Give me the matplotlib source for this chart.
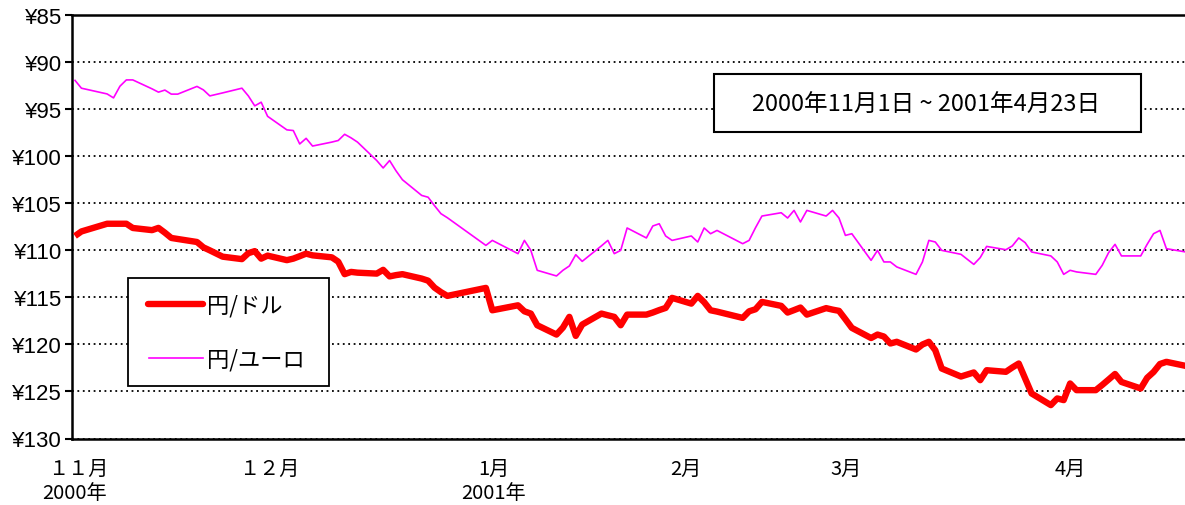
import numpy as np
import matplotlib
matplotlib.use('Agg')
import matplotlib.pyplot as plt
import matplotlib.dates as mdates
from matplotlib.patches import Rectangle
from matplotlib.lines import Line2D

plt.rcParams['font.family'] = ['Liberation Sans', 'Noto Sans CJK JP']

# ---------------- data (Tokyo trading days) ----------------
dates = [
    '2000-11-01', '2000-11-02', '2000-11-06', '2000-11-07', '2000-11-08', '2000-11-09', '2000-11-10',
    '2000-11-13', '2000-11-14', '2000-11-15', '2000-11-16', '2000-11-17', '2000-11-20', '2000-11-21',
    '2000-11-22', '2000-11-24', '2000-11-27', '2000-11-28', '2000-11-29', '2000-11-30',
    '2000-12-01', '2000-12-04', '2000-12-05', '2000-12-06', '2000-12-07', '2000-12-08', '2000-12-11',
    '2000-12-12', '2000-12-13', '2000-12-14', '2000-12-15', '2000-12-18', '2000-12-19', '2000-12-20',
    '2000-12-21', '2000-12-22', '2000-12-25', '2000-12-26', '2000-12-27', '2000-12-28', '2000-12-29',
    '2001-01-04', '2001-01-05', '2001-01-09', '2001-01-10', '2001-01-11', '2001-01-12', '2001-01-15',
    '2001-01-16', '2001-01-17', '2001-01-18', '2001-01-19', '2001-01-22', '2001-01-23', '2001-01-24',
    '2001-01-25', '2001-01-26', '2001-01-29', '2001-01-30', '2001-01-31',
    '2001-02-01', '2001-02-02', '2001-02-05', '2001-02-06', '2001-02-07', '2001-02-08', '2001-02-09',
    '2001-02-13', '2001-02-14', '2001-02-15', '2001-02-16', '2001-02-19', '2001-02-20', '2001-02-21',
    '2001-02-22', '2001-02-23', '2001-02-26', '2001-02-27', '2001-02-28',
    '2001-03-01', '2001-03-02', '2001-03-05', '2001-03-06', '2001-03-07', '2001-03-08', '2001-03-09',
    '2001-03-12', '2001-03-13', '2001-03-14', '2001-03-15', '2001-03-16', '2001-03-19', '2001-03-21',
    '2001-03-22', '2001-03-23', '2001-03-26', '2001-03-27', '2001-03-28', '2001-03-29', '2001-03-30',
    '2001-04-02', '2001-04-03', '2001-04-04', '2001-04-05', '2001-04-06', '2001-04-09', '2001-04-10',
    '2001-04-11', '2001-04-12', '2001-04-13', '2001-04-16', '2001-04-17', '2001-04-18', '2001-04-19',
    '2001-04-20', '2001-04-23',
]

usd_jpy = [
    108.47, 107.99, 107.17, 107.17, 107.17, 107.17, 107.62, 107.85, 107.61, 108.12, 108.68, 108.79,
    109.11, 109.68, 110.00, 110.67, 110.93, 110.30, 110.08, 110.88,
    110.56, 111.04, 110.88, 110.62, 110.35, 110.53, 110.74, 111.20, 112.53, 112.29, 112.37, 112.47,
    112.07, 112.77, 112.63, 112.53, 113.00, 113.22, 113.96, 114.44, 114.84,
    113.99, 116.37, 115.84, 116.48, 116.72, 117.96, 118.95, 118.21, 117.07, 119.09, 117.89, 116.72,
    116.90, 117.07, 117.96, 116.83, 116.83, 116.61, 116.35,
    116.12, 115.05, 115.66, 114.84, 115.51, 116.37, 116.51, 117.18, 116.48, 116.26, 115.48, 115.90,
    116.61, 116.35, 116.08, 116.83, 116.14, 116.30, 116.43,
    117.32, 118.24, 119.32, 118.95, 119.16, 119.90, 119.72, 120.54, 120.01, 119.72, 120.62, 122.56,
    123.41, 122.98, 123.80, 122.74, 122.91, 122.45, 122.03, 123.62, 125.21,
    126.45, 125.74, 125.92, 124.15, 124.86, 124.86, 124.31, 123.73, 123.14, 123.99, 124.68, 123.55,
    122.93, 122.08, 121.85, 122.28,
]

eur_jpy = [
    91.93, 92.76, 93.37, 93.79, 92.55, 91.88, 91.88, 92.83, 93.18, 92.96, 93.39, 93.39,
    92.57, 92.94, 93.58, 93.26, 92.76, 93.58, 94.64, 94.25,
    95.75, 97.19, 97.26, 98.69, 98.09, 98.91, 98.49, 98.32, 97.66, 98.04, 98.49, 100.45,
    101.24, 100.45, 101.54, 102.49, 104.16, 104.35, 105.25, 106.10, 106.53,
    109.47, 108.94, 110.35, 108.94, 110.00, 112.12, 112.72, 112.12, 111.66, 110.46, 111.17, 109.52,
    108.94, 110.35, 110.00, 107.62, 108.68, 107.41, 107.17,
    108.47, 108.94, 108.47, 109.11, 107.62, 108.23, 107.88, 109.29, 108.94, 107.59, 106.35, 106.00,
    106.56, 105.75, 106.98, 105.75, 106.35, 105.75, 106.56,
    108.41, 108.23, 111.06, 110.00, 111.23, 111.23, 111.76, 112.55, 111.23, 108.94, 109.11, 110.00,
    110.42, 111.49, 110.77, 109.58, 109.93, 109.53, 108.68, 109.18, 110.17,
    110.59, 111.23, 112.55, 112.12, 112.29, 112.55, 111.59, 110.24, 109.36, 110.59, 110.59, 109.36,
    108.23, 107.88, 109.82, 110.17,
]

y_ticks = [85, 90, 95, 100, 105, 110, 115, 120, 125, 130]
y_labels = ['¥%d' % v for v in y_ticks]

month_labels = ['１１月', '１２月', '1月', '2月', '3月', '4月']
month_pos = ['2000-11-01T12', '2000-12-01T06', '2001-01-05T06', '2001-02-04T04', '2001-03-01T02', '2001-04-05']
year_labels = ['2000年', '2001年']
year_pos = ['2000-11-01', '2001-01-05T06']

series_names = ['円/ドル', '円/ユーロ']
period_text = '2000年11月1日 ~ 2001年4月23日'

# ---------------- figure ----------------
W, H = 1185, 506
fig = plt.figure(figsize=(W / 100, H / 100), dpi=100)

L, R, T, B = 71.5, 1185, 16.2, 439.5
ax = fig.add_axes([L / W, 1 - B / H, (R - L) / W, (B - T) / H])

x = mdates.date2num(np.array(dates, dtype='datetime64[D]'))
x0 = mdates.date2num(np.datetime64('2000-11-01'))
ppd = 6.42  # pixels per day
ax.set_xlim(x0 - (75 - L) / ppd, x0 + (R - 75) / ppd)
ax.set_ylim(130, 85)

ax.yaxis.grid(True, linestyle=(0, (1, 2)), color='black', linewidth=1.3)
ax.set_axisbelow(True)

ax.plot(x, usd_jpy, color='#FF0000', linewidth=4.6, solid_joinstyle='round', solid_capstyle='butt', zorder=3)
ax.plot(x, eur_jpy, color='#FF00FF', linewidth=1.2, zorder=3)

ax.set_yticks(y_ticks)
ax.set_yticklabels(y_labels)
ax.tick_params(axis='y', direction='out', length=5, width=1.5, pad=2, labelsize=16)
for lab in ax.get_yticklabels():
    lab.set_family(['Liberation Sans'])
ax.set_xticks([])

for s in ['top', 'left', 'bottom']:
    ax.spines[s].set_linewidth(1.8)
    ax.spines[s].set_color('black')
ax.spines['right'].set_visible(False)

# month / year labels
tr = ax.get_xaxis_transform()
for lab, pos in zip(month_labels, month_pos):
    xp = mdates.date2num(np.datetime64(pos))
    ax.text(xp, -(469 - B) / (B - T), lab, transform=tr, ha='center', va='center',
            fontsize=14.5, family=['Noto Sans CJK JP'], clip_on=False)
for lab, pos in zip(year_labels, year_pos):
    xp = mdates.date2num(np.datetime64(pos))
    ax.text(xp, -(494 - B) / (B - T), lab, transform=tr, ha='center', va='center',
            fontsize=14.5, family=['Noto Sans CJK JP'], clip_on=False)


def fx(px):
    return px / W


def fy(py):
    return 1 - py / H


# legend box
fig.add_artist(Rectangle((fx(128), fy(387)), (329 - 128) / W, (387 - 279) / H,
                         transform=fig.transFigure, facecolor='white', edgecolor='black',
                         linewidth=1.3, zorder=5))
fig.add_artist(Line2D([fx(148), fx(203)], [fy(305), fy(305)], transform=fig.transFigure,
                      color='#FF0000', linewidth=4.6, solid_capstyle='round', zorder=6))
fig.add_artist(Line2D([fx(149), fx(203)], [fy(359), fy(359)], transform=fig.transFigure,
                      color='#FF00FF', linewidth=1.2, zorder=6))
fig.text(fx(207), fy(306), series_names[0], fontsize=16, family=['Noto Sans CJK JP'],
         ha='left', va='center', zorder=7)
fig.text(fx(207), fy(360), series_names[1], fontsize=16, family=['Noto Sans CJK JP'],
         ha='left', va='center', zorder=7)

# period box
fig.add_artist(Rectangle((fx(714), fy(133)), (1141 - 714) / W, (133 - 75) / H,
                         transform=fig.transFigure, facecolor='white', edgecolor='black',
                         linewidth=1.5, zorder=5))
fig.text(fx(926), fy(105), period_text, fontsize=17, family=['Noto Sans CJK JP'],
         ha='center', va='center', zorder=7)

fig.savefig('out.png', dpi=100)
